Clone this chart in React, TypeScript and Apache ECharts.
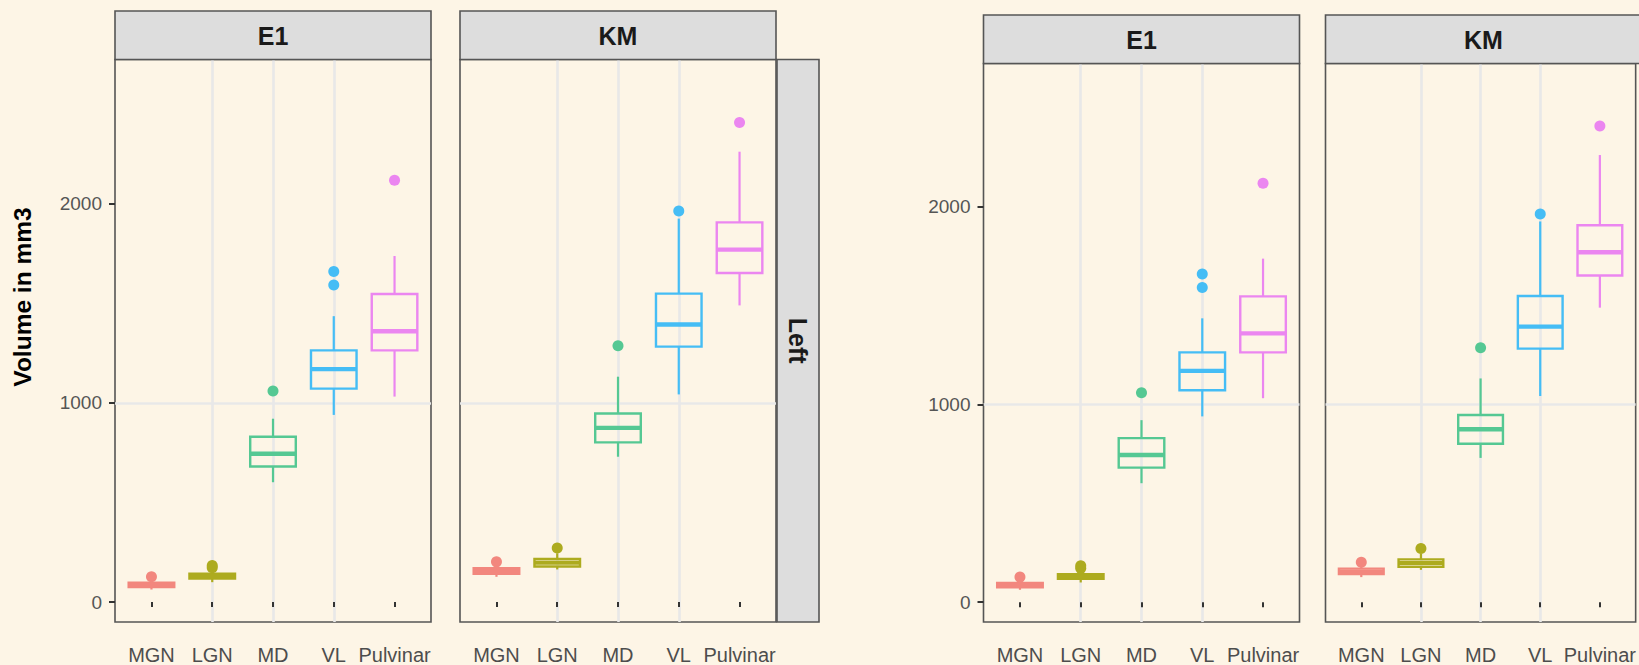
import React, { useEffect, useRef } from 'react';
import * as echarts from 'echarts';

const categories = ['MGN', 'LGN', 'MD', 'VL', 'Pulvinar'];
const regionColors = ['#F2877E', '#ADAB1F', '#55C893', '#45BDF5', '#EB86F0'];
const facetNames = ['E1', 'KM'];
const rowStripName = 'Left';
const yTicks = [0, 1000, 2000];
const yTitle = 'Volume in mm3';

// [lower whisker, Q1, median, Q3, upper whisker] per region
const e1Stats = [
  [63, 76, 86, 97, 110],
  [100, 118, 130, 142, 158],
  [602, 681, 745, 830, 921],
  [940, 1072, 1170, 1264, 1436],
  [1032, 1264, 1360, 1547, 1738],
];
const kmStats = [
  [127, 142, 155, 170, 185],
  [164, 179, 198, 217, 245],
  [730, 802, 875, 947, 1132],
  [1043, 1283, 1394, 1549, 1926],
  [1490, 1653, 1770, 1907, 2262],
];
// [region position (1-based), value]
const e1Outliers = [[1, 127], [2, 172], [2, 184], [3, 1060], [4, 1592], [4, 1660], [5, 2119]];
const kmOutliers = [[1, 202], [2, 272], [3, 1287], [4, 1964], [5, 2409]];

const facetStats = [e1Stats, kmStats];
const facetOutliers = [e1Outliers, kmOutliers];

const BG = '#FDF5E6';
const GRID_LINE = '#E8E8E8';
const BORDER = '#555555';
const STRIP_FILL = '#DDDDDD';
const FONT = '"Liberation Sans", Arial, Helvetica, sans-serif';

// layout of the two copies of the figure
const figures = [
  { panels: [115, 460], width: 316, top: 59.5, bottom: 622, stripTop: 11, showTitle: true, rowStrip: true },
  { panels: [983.5, 1325.5], width: 316, top: 63.5, bottom: 626, stripTop: 15, showTitle: false, rowStrip: false },
];

function buildOption() {
  const grid: any[] = [];
  const xAxis: any[] = [];
  const yAxis: any[] = [];
  const series: any[] = [];
  const graphic: any[] = [];
  const positions = categories.map((_, i) => i + 1);

  figures.forEach((fig) => {
    fig.panels.forEach((left, p) => {
      const gi = grid.length;
      const height = fig.bottom - fig.top;
      grid.push({
        left, top: fig.top, width: fig.width, height,
        show: true, borderColor: BORDER, borderWidth: 1.6, backgroundColor: 'transparent',
        containLabel: false,
      });
      xAxis.push({
        gridIndex: gi, type: 'value', min: 0.4, max: 5.6, offset: 14,
        axisLine: { show: false },
        axisTick: { show: true, length: 5, customValues: positions, lineStyle: { color: '#333333', width: 2 } },
        axisLabel: {
          show: true, customValues: positions, margin: 9,
          formatter: (v: number) => categories[Math.round(v) - 1] ?? '',
          color: '#4D4D4D', fontSize: 20, fontFamily: FONT,
        },
        splitLine: { show: true, showMinLine: false, showMaxLine: false, lineStyle: { color: GRID_LINE, width: 2.6 } },
      });
      const first = p === 0;
      yAxis.push({
        gridIndex: gi, type: 'value', min: -100, max: 2725,
        axisLine: { show: false },
        axisTick: { show: first, length: 6, customValues: yTicks, lineStyle: { color: '#333333', width: 2 } },
        axisLabel: {
          show: first, customValues: yTicks, margin: 13,
          formatter: (v: number) => String(v),
          color: '#555555', fontSize: 19, fontFamily: FONT,
        },
        splitLine: { show: true, showMinLine: false, showMaxLine: false, lineStyle: { color: GRID_LINE, width: 2.6 } },
      });

      const stats = facetStats[p];
      series.push({
        type: 'custom', xAxisIndex: gi, yAxisIndex: gi, clip: false, z: 3,
        data: stats.map((s, i) => [positions[i], ...s]),
        encode: { x: 0, y: [1, 2, 3, 4, 5] },
        renderItem: (params: any, api: any) => {
          const x = api.value(0);
          const vals = [1, 2, 3, 4, 5].map((d) => api.value(d));
          const pts = vals.map((v) => api.coord([x, v]));
          const half = api.size([0.75, 0])[0] / 2;
          const color = regionColors[x - 1];
          const cx = pts[0][0];
          return {
            type: 'group',
            children: [
              { type: 'line', shape: { x1: cx, y1: pts[4][1], x2: cx, y2: pts[3][1] }, style: { stroke: color, lineWidth: 2.2 } },
              { type: 'line', shape: { x1: cx, y1: pts[0][1], x2: cx, y2: pts[1][1] }, style: { stroke: color, lineWidth: 2.2 } },
              {
                type: 'rect',
                shape: { x: cx - half, y: pts[3][1], width: half * 2, height: pts[1][1] - pts[3][1] },
                style: { fill: 'none', stroke: color, lineWidth: 2.4 },
              },
              { type: 'line', shape: { x1: cx - half, y1: pts[2][1], x2: cx + half, y2: pts[2][1] }, style: { stroke: color, lineWidth: 4.4 } },
            ],
          };
        },
      });
      series.push({
        type: 'scatter', xAxisIndex: gi, yAxisIndex: gi, z: 4,
        symbol: 'circle', symbolSize: 11,
        data: facetOutliers[p].map((o) => [o[0], o[1]]),
        itemStyle: { color: (prm: any) => regionColors[prm.data[0] - 1], opacity: 1 },
        emphasis: { disabled: true },
      });

      // facet strip on top
      graphic.push({
        type: 'rect', z: 10,
        shape: { x: left, y: fig.stripTop, width: fig.width, height: fig.top - fig.stripTop },
        style: { fill: STRIP_FILL, stroke: BORDER, lineWidth: 1.6 },
      });
      graphic.push({
        type: 'text', z: 11, x: left + fig.width / 2, y: (fig.stripTop + fig.top) / 2 + 1,
        style: { text: facetNames[p], fontSize: 25, fontWeight: 'bold', fill: '#1A1A1A', align: 'center', verticalAlign: 'middle', fontFamily: FONT },
      });
    });
    if (fig.rowStrip) {
      const right = fig.panels[1] + fig.width + 1;
      graphic.push({
        type: 'rect', z: 10,
        shape: { x: right, y: fig.top, width: 42, height: fig.bottom - fig.top },
        style: { fill: STRIP_FILL, stroke: BORDER, lineWidth: 1.6 },
      });
      graphic.push({
        type: 'text', z: 11, x: right + 21, y: (fig.top + fig.bottom) / 2,
        rotation: -Math.PI / 2,
        style: { text: rowStripName, fontSize: 25, fontWeight: 'bold', fill: '#1A1A1A', align: 'center', verticalAlign: 'middle', fontFamily: FONT },
      });
    }
    if (fig.showTitle) {
      graphic.push({
        type: 'text', z: 11, x: 22, y: 297,
        rotation: Math.PI / 2,
        style: { text: yTitle, fontSize: 24.5, fontWeight: 'bold', fill: '#000000', align: 'center', verticalAlign: 'middle', fontFamily: FONT },
      });
    }
  });

  return {
    animation: false,
    backgroundColor: BG,
    grid, xAxis, yAxis, series, graphic,
  };
}

export default function App() {
  const ref = useRef<HTMLDivElement>(null);
  useEffect(() => {
    if (!ref.current) return;
    const chart = echarts.init(ref.current, null, { renderer: 'svg' });
    chart.setOption(buildOption() as any);
    return () => chart.dispose();
  }, []);
  return (
    <div style={{ position: 'fixed', left: 0, top: 0, width: 1639, height: 665, overflow: 'hidden', background: BG }}>
      <div ref={ref} style={{ width: 1639, height: 665 }} />
    </div>
  );
}
